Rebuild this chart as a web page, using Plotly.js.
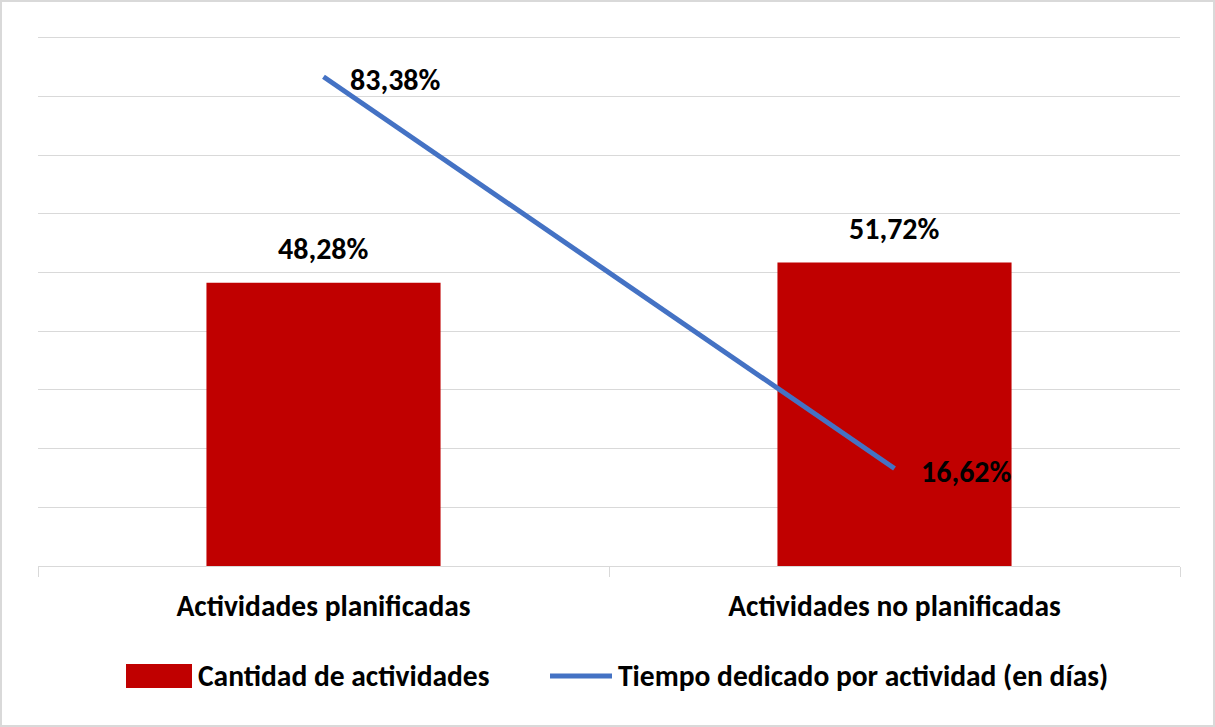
<!DOCTYPE html>
<html>
<head>
<meta charset="utf-8">
<script src="https://cdn.plot.ly/plotly-3.0.1.min.js"></script>
<style>
  html, body { margin: 0; padding: 0; background: #fff; }
  #wrap { position: relative; width: 1215px; height: 727px; }
  #chart { width: 1215px; height: 727px; }
  #frame { position: absolute; left: 0; top: 0; width: 1215px; height: 727px; box-sizing: border-box; border: 2px solid #d9d9d9; pointer-events: none; }
</style>
</head>
<body>
<div id="wrap">
  <div id="chart"></div>
  <div id="frame"></div>
</div>
<script>
const categories = ["Actividades planificadas", "Actividades no planificadas"];
const cantidadActividades = [48.28, 51.72];
const tiempoDedicado = [83.38, 16.62];
const seriesNames = ["Cantidad de actividades", "Tiempo dedicado por actividad (en días)"];

const FONT = "Carlito, 'Liberation Sans Narrow', 'Open Sans', Roboto, sans-serif";
const BAR_COLOR = '#C00000';
const LINE_COLOR = '#4472C4';
const fmt = v => v.toFixed(2).replace('.', ',') + '%';

const barTrace = {
  type: 'bar',
  x: categories,
  y: cantidadActividades,
  name: seriesNames[0],
  marker: { color: BAR_COLOR },
  width: 0.41,
  hoverinfo: 'skip'
};
const lineTrace = {
  type: 'scatter',
  mode: 'lines',
  x: categories,
  y: tiempoDedicado,
  name: seriesNames[1],
  line: { color: LINE_COLOR, width: 5 },
  hoverinfo: 'skip'
};

// plot area geometry (px); y range extends slightly above 90 so the 90 gridline shows
const YMAX = 91;
const PL = 38, PR = 1180, PB = 566;
const PX_PER_UNIT = 528 / 90;
const PT = Math.round(PB - YMAX * PX_PER_UNIT);
const px = x => (x - PL) / (PR - PL);
const py = y => (PB - y) / (PB - PT);

const annotations = [];
categories.forEach((c, i) => {
  annotations.push({
    x: c, y: cantidadActividades[i], xref: 'x', yref: 'y',
    text: '<b>' + fmt(cantidadActividades[i]) + '</b>',
    showarrow: false, yanchor: 'bottom', yshift: 14,
    font: { family: FONT, size: 30, color: '#000' }
  });
  annotations.push({
    x: c, y: tiempoDedicado[i], xref: 'x', yref: 'y',
    text: '<b>' + fmt(tiempoDedicado[i]) + '</b>',
    showarrow: false, xanchor: 'left', xshift: 24, yshift: -3,
    font: { family: FONT, size: 30, color: '#000' }
  });
});

// custom legend (large swatches like the original)
annotations.push({
  x: px(196), y: py(676), xref: 'paper', yref: 'paper',
  xanchor: 'left', yanchor: 'middle', showarrow: false,
  text: '<b>' + seriesNames[0] + '</b>',
  font: { family: FONT, size: 29.5, color: '#000' }
});
annotations.push({
  x: px(616), y: py(676), xref: 'paper', yref: 'paper',
  xanchor: 'left', yanchor: 'middle', showarrow: false,
  text: '<b>' + seriesNames[1] + '</b>',
  font: { family: FONT, size: 29.5, color: '#000' }
});
const shapes = [
  { type: 'rect', xref: 'paper', yref: 'paper',
    x0: px(126), x1: px(192), y0: py(688), y1: py(664),
    fillcolor: BAR_COLOR, line: { width: 0 } },
  { type: 'line', xref: 'paper', yref: 'paper',
    x0: px(550), x1: px(612), y0: py(676), y1: py(676),
    line: { color: LINE_COLOR, width: 5 } }
];

const layout = {
  width: 1215, height: 727,
  margin: { l: PL, r: 1215 - PR, t: PT, b: 727 - PB },
  paper_bgcolor: '#fff', plot_bgcolor: '#fff',
  font: { family: FONT, size: 20, color: '#000' },
  showlegend: false,
  xaxis: {
    type: 'category',
    showgrid: false,
    showline: true, linecolor: '#d9d9d9', linewidth: 1,
    ticks: 'outside', tickson: 'boundaries', ticklen: 10, tickcolor: '#d9d9d9',
    ticklabelstandoff: 14,
    tickfont: { family: FONT, size: 29.5, color: '#000' },
    tickprefix: '<b>', ticksuffix: '</b>',
    fixedrange: true
  },
  yaxis: {
    range: [0, YMAX], dtick: 10, tick0: 0,
    showticklabels: false, showgrid: true, gridcolor: '#d9d9d9', gridwidth: 1,
    zeroline: false, showline: false, ticks: '',
    fixedrange: true
  },
  annotations: annotations,
  shapes: shapes
};

Plotly.newPlot('chart', [barTrace, lineTrace], layout, { displayModeBar: false, staticPlot: true });
</script>
</body>
</html>
